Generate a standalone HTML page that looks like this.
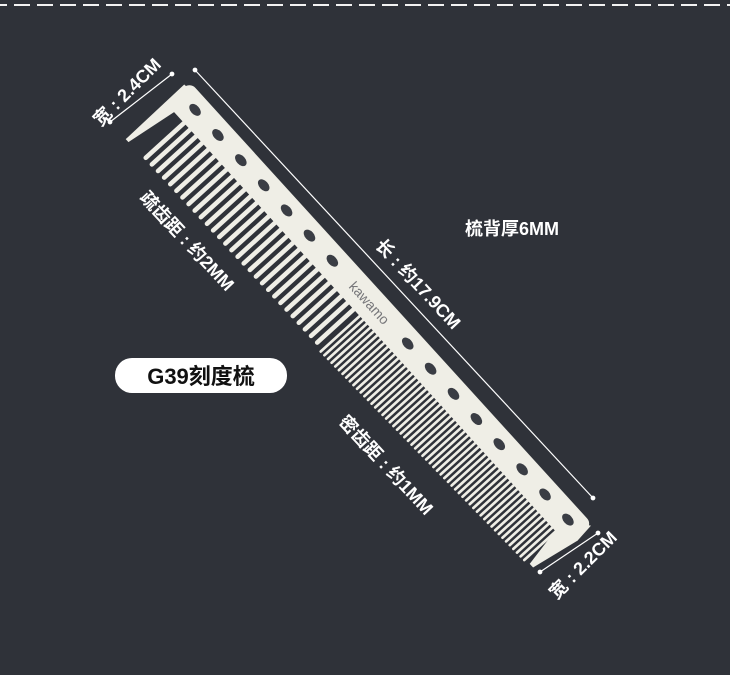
<!DOCTYPE html>
<html><head><meta charset="utf-8"><style>
html,body{margin:0;padding:0;background:#2f3239;}
body{width:730px;height:675px;overflow:hidden;position:relative;font-family:"Liberation Sans","Noto Sans CJK SC",sans-serif;}
svg{position:absolute;left:0;top:0}
.t{font-family:"Liberation Sans","Noto Sans CJK SC",sans-serif;font-weight:bold;fill:#fff;}
</style></head><body>
<svg width="730" height="675" viewBox="0 0 730 675">
<line x1="0" y1="5" x2="730" y2="5" stroke="#f2f2f2" stroke-width="2" stroke-dasharray="16,7" stroke-dashoffset="9"/>
<g id="comb" transform="translate(190,82) rotate(47.7)" fill="#efeee6"></g>
<g stroke="#fff" stroke-width="1.2" fill="#fff">
<line x1="110" y1="122" x2="172" y2="74"/><circle cx="110" cy="122" r="1.8"/><circle cx="172" cy="74" r="1.8"/>
<line x1="195" y1="70" x2="593" y2="498"/><circle cx="195" cy="70" r="1.8"/><circle cx="593" cy="498" r="1.8"/>
<line x1="540" y1="572" x2="598" y2="533"/><circle cx="540" cy="572" r="1.8"/><circle cx="598" cy="533" r="1.8"/>
</g>
<text class="t" font-size="18" transform="translate(128,93) rotate(-45)" text-anchor="middle" dominant-baseline="middle">宽 : 2.4CM</text>
<text class="t" font-size="18" transform="translate(417,285) rotate(47)" text-anchor="middle" dominant-baseline="middle">长 : 约17.9CM</text>
<text class="t" font-size="18" transform="translate(186,242) rotate(47)" text-anchor="middle" dominant-baseline="middle">疏齿距 : 约2MM</text>
<text class="t" font-size="18" transform="translate(385,466) rotate(47)" text-anchor="middle" dominant-baseline="middle">密齿距 : 约1MM</text>
<text class="t" font-size="18" transform="translate(584,566) rotate(-45)" text-anchor="middle" dominant-baseline="middle">宽 : 2.2CM</text>
<text class="t" font-size="18" x="465" y="235">梳背厚6MM</text>
<rect x="115" y="358" width="172" height="35" rx="17" fill="#fff"/>
<text x="201" y="384" font-size="22" font-weight="bold" fill="#111" text-anchor="middle" font-family="Liberation Sans,Noto Sans CJK SC,sans-serif">G39刻度梳</text>
</svg>
<script>
var g=document.getElementById('comb'),h='';
h+='<rect x="0" y="0" width="598" height="32" rx="8"/>';
h+='<polygon points="-2,6 16,4 3,86 -1,86"/>';
for(var x=24;x<282;x+=9){var L=60-(x-24)*0.01;h+='<rect x="'+x+'" y="26" width="4.6" height="'+L.toFixed(1)+'" rx="2.2"/>';}
for(var x=286;x<578;x+=5.2){var L=60-(x-286)*0.035;h+='<rect x="'+x.toFixed(1)+'" y="26" width="2.7" height="'+L.toFixed(1)+'" rx="1.3"/>';}
h+='<polygon points="576,20 598,2 600,22 590,73 585,73 580,45"/>';
var xs=[24,58,92,126,160,194,228,340,374,408,442,476,510,544,578];
for(var i=0;i<xs.length;i++){h+='<ellipse cx="'+xs[i]+'" cy="15" rx="7" ry="4.5" fill="#3a3d44"/>';}
h+='<text x="258" y="21" font-size="14" fill="#77777a" font-family="Liberation Sans,sans-serif">kawamo</text>';
g.innerHTML=h;
</script>
</body></html>
